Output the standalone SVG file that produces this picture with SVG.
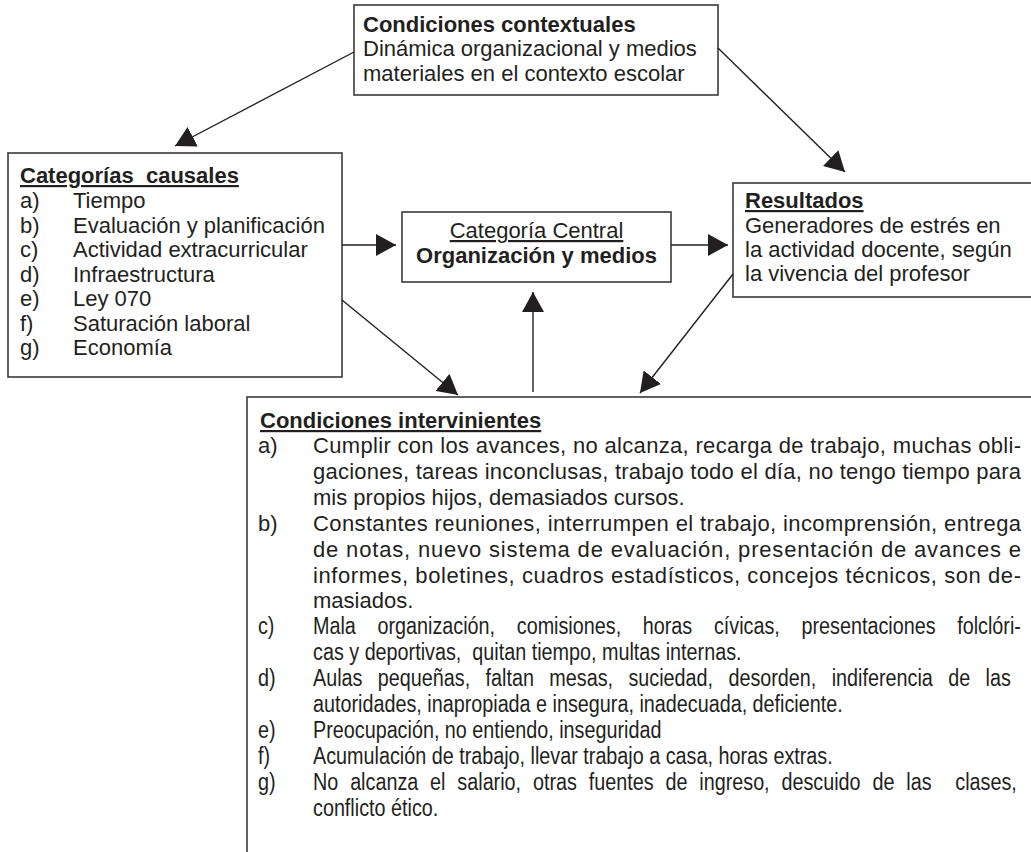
<svg xmlns="http://www.w3.org/2000/svg" width="1031" height="852" viewBox="0 0 1031 852">
<defs>
<style>
text{font-family:"Liberation Sans",Arial,sans-serif;font-size:22px;fill:#231f20}
.b{font-weight:bold}
.u{text-decoration:underline}
.n{font-size:23px}
.box{fill:#fff;stroke:#3a3a3a;stroke-width:1.6}
.c{stroke:#231f20;stroke-width:1.4;fill:none;marker-end:url(#ah)}
</style>
<marker id="ah" markerUnits="userSpaceOnUse" markerWidth="21" markerHeight="22" refX="20" refY="11" orient="auto" viewBox="0 0 21 22">
<path d="M0,0 L20,11 L0,22 z" fill="#231f20"/>
</marker>
</defs>
<rect width="1031" height="852" fill="#fff"/>

<g id="contextuales">
<rect class="box" x="354" y="5" width="364" height="90"/>
<text x="363" y="32" class="b">Condiciones contextuales</text>
<text x="363" y="56">Dinámica organizacional y medios</text>
<text x="363" y="80.5">materiales en el contexto escolar</text>
</g>

<g id="causales">
<rect class="box" x="8" y="153" width="334" height="224"/>
<text x="20" y="183" class="b u">Categorías&#160; causales</text>
<text x="20" y="208">a)</text><text x="73" y="208">Tiempo</text>
<text x="20" y="232.5">b)</text><text x="73" y="232.5">Evaluación y planificación</text>
<text x="20" y="257">c)</text><text x="73" y="257">Actividad extracurricular</text>
<text x="20" y="281.5">d)</text><text x="73" y="281.5">Infraestructura</text>
<text x="20" y="306">e)</text><text x="73" y="306">Ley 070</text>
<text x="20" y="330.5">f)</text><text x="73" y="330.5">Saturación laboral</text>
<text x="20" y="355">g)</text><text x="73" y="355">Economía</text>
</g>

<g id="central">
<rect class="box" x="402" y="212" width="269" height="70"/>
<text x="536.5" y="238" text-anchor="middle" class="u">Categoría Central</text>
<text x="536.5" y="263" text-anchor="middle" class="b">Organización y medios</text>
</g>

<g id="resultados">
<rect class="box" x="733" y="183" width="310" height="114"/>
<text x="745" y="208" class="b u">Resultados</text>
<text x="745" y="232.5">Generadores de estrés en</text>
<text x="745" y="257">la actividad docente, según</text>
<text x="745" y="281">la vivencia del profesor</text>
</g>

<g id="intervinientes">
<rect class="box" x="247" y="397" width="800" height="470"/>
<text x="260" y="428" class="b u">Condiciones intervinientes</text>
<text x="258" y="453">a)</text>
<text x="313" y="453" textLength="708" lengthAdjust="spacing">Cumplir con los avances, no alcanza, recarga de trabajo, muchas obli-</text>
<text x="313" y="478.9" textLength="708" lengthAdjust="spacing">gaciones, tareas inconclusas, trabajo todo el día, no tengo tiempo para</text>
<text x="313" y="504.8">mis propios hijos, demasiados cursos.</text>
<text x="258" y="530.7">b)</text>
<text x="313" y="530.7" textLength="708" lengthAdjust="spacing">Constantes reuniones, interrumpen el trabajo, incomprensión, entrega</text>
<text x="313" y="556.6" textLength="708" lengthAdjust="spacing">de notas, nuevo sistema de evaluación, presentación de avances e</text>
<text x="313" y="582.5" textLength="708" lengthAdjust="spacing">informes, boletines, cuadros estadísticos, concejos técnicos, son de-</text>
<text x="313" y="608.4">masiados.</text>
<g transform="translate(313,0) scale(0.86,1)">
<text class="n" x="-64" y="634.3">c)</text>
<text class="n" x="0" y="634.3" word-spacing="18.8">Mala organización, comisiones, horas cívicas, presentaciones folclóri-</text>
<text class="n" x="0" y="660.2">cas y deportivas,&#160; quitan tiempo, multas internas.</text>
<text class="n" x="-64" y="686.1">d)</text>
<text class="n" x="0" y="686.1" word-spacing="11.5">Aulas pequeñas, faltan mesas, suciedad, desorden, indiferencia de las</text>
<text class="n" x="0" y="712">autoridades, inapropiada e insegura, inadecuada, deficiente.</text>
<text class="n" x="-64" y="737.9">e)</text>
<text class="n" x="0" y="737.9">Preocupación, no entiendo, inseguridad</text>
<text class="n" x="-64" y="763.8">f)</text>
<text class="n" x="0" y="763.8">Acumulación de trabajo, llevar trabajo a casa, horas extras.</text>
<text class="n" x="-64" y="789.7">g)</text>
<text class="n" x="0" y="789.7" word-spacing="7.4">No alcanza el salario, otras fuentes de ingreso, descuido de las&#160; clases,</text>
<text class="n" x="0" y="816">conflicto ético.</text>
</g>
</g>

<g id="connectors">
<line class="c" x1="354" y1="52" x2="175" y2="146"/>
<line class="c" x1="718" y1="48" x2="845" y2="172"/>
<line class="c" x1="342" y1="245" x2="396" y2="245"/>
<line class="c" x1="671" y1="245" x2="728" y2="245"/>
<line class="c" x1="533" y1="392" x2="533" y2="292"/>
<line class="c" x1="342" y1="300" x2="458" y2="395"/>
<line class="c" x1="733" y1="274" x2="640" y2="393"/>
</g>
</svg>
